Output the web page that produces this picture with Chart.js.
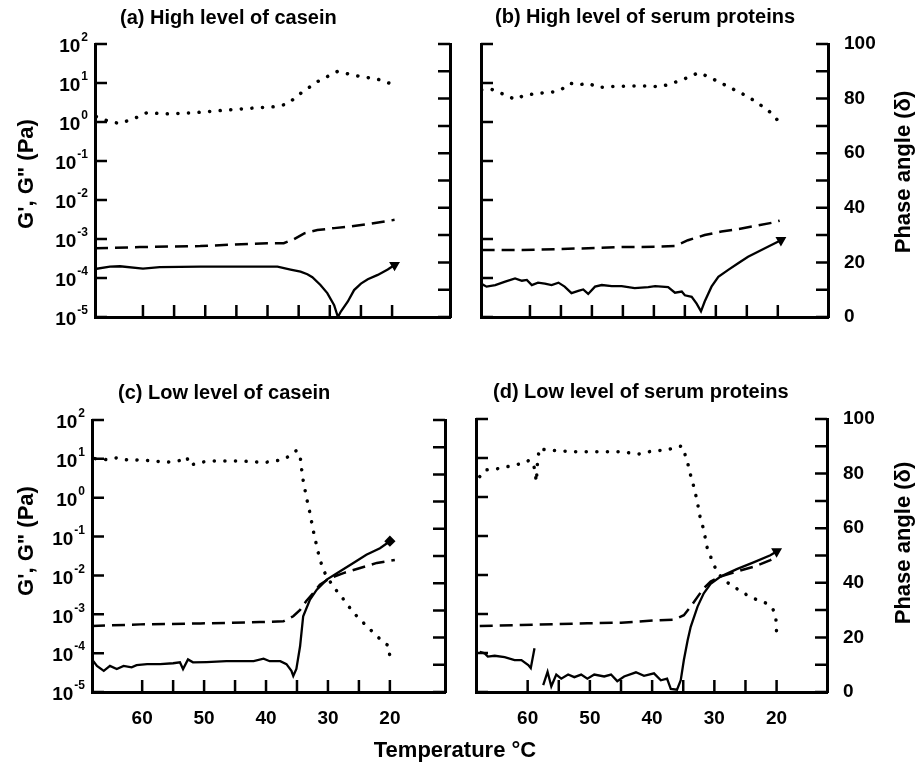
<!DOCTYPE html>
<html>
<head>
<meta charset="utf-8">
<script src="https://cdn.jsdelivr.net/npm/chart.js@4.4.1/dist/chart.umd.min.js"></script>
<style>
  body { margin: 0; background: #fff; }
  #page { position: relative; width: 915px; height: 770px; overflow: hidden; font-family: "Liberation Sans", Arial, sans-serif; font-weight: bold; color: #000; }
  canvas { position: absolute; }
  .txt { position: absolute; white-space: nowrap; line-height: 1; }
  .mid { transform: translate(-50%, -50%); }
  .rot { transform: translate(-50%, -50%) rotate(-90deg); }
</style>
</head>
<body>
<div id="page">
  <canvas id="chartA" width="458" height="360" style="left:0px;top:0px"></canvas>
  <canvas id="chartB" width="457" height="360" style="left:458px;top:0px"></canvas>
  <canvas id="chartC" width="458" height="380" style="left:0px;top:360px"></canvas>
  <canvas id="chartD" width="457" height="380" style="left:458px;top:360px"></canvas>

  <div class="txt" style="left:120px;top:7px;font-size:20px">(a) High level of casein</div>
  <div class="txt" style="left:495px;top:6px;font-size:20px">(b) High level of serum proteins</div>
  <div class="txt" style="left:118px;top:382px;font-size:20px">(c) Low level of casein</div>
  <div class="txt" style="left:493px;top:381px;font-size:20px">(d) Low level of serum proteins</div>

  <div class="txt rot" style="left:26px;top:174px;font-size:22px">G', G" (Pa)</div>
  <div class="txt rot" style="left:26px;top:541px;font-size:22px">G', G" (Pa)</div>
  <div class="txt rot" style="left:903px;top:172px;font-size:22px">Phase angle (δ)</div>
  <div class="txt rot" style="left:903px;top:543px;font-size:22px">Phase angle (δ)</div>
  <div class="txt mid" style="left:455px;top:750px;font-size:22px">Temperature °C</div>
</div>

<script>
// 축 눈금 값
var tempTicks = [60, 55, 50, 45, 40, 35, 30, 25, 20];
var tempLabels = [60, 50, 40, 30, 20];
var gExponents = [2, 1, 0, -1, -2, -3, -4, -5];
var phaseTicks = [0, 10, 20, 30, 40, 50, 60, 70, 80, 90, 100];
var phaseLabels = [0, 20, 40, 60, 80, 100];

// (a) High level of casein
var aTempPhase = [67.5, 65.3, 63.7, 62.1, 61.0, 59.4, 56.2, 51.9, 47.6, 43.3, 39.0, 36.8, 34.7, 32.0, 28.8, 25.5, 22.3, 19.6];
var aPhase = [73.4, 71.5, 70.9, 72.2, 73.1, 74.8, 74.4, 74.8, 75.6, 76.4, 77.0, 78.0, 81.9, 86.2, 89.9, 88.3, 87.1, 85.0];
var aTempG2 = [67.7, 60.5, 50.8, 40.0, 37.4, 35.8, 34.1, 32.0, 29.3, 26.6, 23.9, 21.2, 19.6];
var aG2 = [5.8e-4, 6.2e-4, 6.6e-4, 7.8e-4, 7.8e-4, 9.8e-4, 1.4e-3, 1.7e-3, 1.9e-3, 2.1e-3, 2.4e-3, 2.8e-3, 3.1e-3];
var aTempG1 = [67.7, 65.3, 63.7, 60.0, 57.3, 50.8, 44.4, 38.4, 36.3, 34.7, 33.6, 32.8, 31.5, 30.4, 29.3, 28.7, 28.2, 27.1, 26.1, 25.0, 23.9, 22.3, 20.7, 19.6];
var aG1 = [1.7e-4, 1.95e-4, 2.0e-4, 1.75e-4, 1.9e-4, 1.95e-4, 1.95e-4, 1.95e-4, 1.65e-4, 1.45e-4, 1.25e-4, 1.05e-4, 6.6e-5, 4.1e-5, 2.0e-5, 1.0e-5, 1.4e-5, 2.5e-5, 4.9e-5, 7.2e-5, 9.3e-5, 1.2e-4, 1.65e-4, 2.15e-4];

// (b) High level of serum proteins
var bTempPhase = [67.8, 66.2, 64.6, 62.4, 60.8, 59.2, 57.6, 56.0, 54.9, 53.5, 52.2, 50.6, 49.0, 46.8, 44.1, 41.5, 38.8, 37.1, 35.5, 33.9, 32.8, 31.2, 29.6, 28.0, 26.4, 24.8, 23.2, 21.6, 20.5, 19.7];
var bPhase = [83.2, 83.4, 81.9, 79.7, 81.3, 81.7, 82.2, 82.5, 83.4, 85.6, 85.0, 85.6, 84.1, 84.4, 84.6, 84.6, 84.4, 85.6, 86.8, 88.3, 89.5, 88.0, 86.2, 84.4, 82.5, 80.7, 78.3, 75.8, 73.4, 71.0];
var bTempG2 = [67.8, 61.3, 56.0, 50.6, 45.2, 39.8, 36.6, 34.5, 31.8, 29.1, 26.4, 23.7, 21.0, 19.7];
var bG2 = [5.2e-4, 5.2e-4, 5.5e-4, 5.8e-4, 6.2e-4, 6.3e-4, 6.6e-4, 9.3e-4, 1.26e-3, 1.55e-3, 1.8e-3, 2.15e-3, 2.6e-3, 2.95e-3];
var bTempG1 = [67.9, 67.0, 65.6, 64.0, 62.4, 61.3, 60.5, 59.7, 58.7, 57.6, 56.5, 55.4, 54.4, 53.3, 52.2, 51.4, 50.6, 49.5, 48.4, 46.8, 45.2, 43.1, 40.9, 39.8, 37.7, 36.6, 35.5, 35.0, 33.9, 33.1, 32.4, 31.8, 30.7, 29.6, 28.0, 26.4, 24.8, 23.2, 21.6, 19.5];
var bG1 = [7.2e-5, 6.0e-5, 6.6e-5, 8.1e-5, 9.8e-5, 8.5e-5, 8.9e-5, 6.6e-5, 7.6e-5, 7.2e-5, 6.6e-5, 7.6e-5, 6.0e-5, 4.1e-5, 4.7e-5, 5.1e-5, 3.9e-5, 6.0e-5, 6.6e-5, 6.2e-5, 6.2e-5, 5.5e-5, 5.8e-5, 6.2e-5, 5.8e-5, 4.2e-5, 4.5e-5, 3.6e-5, 3.3e-5, 2.2e-5, 1.4e-5, 2.5e-5, 6.0e-5, 1.07e-4, 1.62e-4, 2.4e-4, 3.5e-4, 4.7e-4, 6.3e-4, 9.3e-4];

// (c) Low level of casein
var cTempPhase = [67.6, 65.7, 64.1, 61.9, 60.3, 58.2, 56.0, 53.9, 52.8, 52.3, 50.6, 48.5, 46.3, 44.2, 42.0, 40.4, 38.8, 37.2, 36.1, 35.1, 34.5, 34.3, 34.0, 33.5, 32.9, 32.4, 31.8, 31.3, 30.5, 29.2, 27.5, 25.9, 24.3, 22.7, 21.0, 20.2, 20.0];
var cPhase = [85.8, 85.4, 86.1, 85.1, 85.4, 84.9, 84.5, 85.1, 86.4, 83.3, 84.5, 84.9, 84.9, 84.9, 84.7, 84.3, 84.9, 85.4, 87.0, 88.8, 87.0, 82.7, 77.8, 71.8, 65.7, 59.6, 53.5, 48.6, 43.8, 38.9, 34.1, 29.2, 25.5, 21.9, 18.2, 17.0, 12.8];
var cTempG2 = [68.1, 60.3, 50.6, 41.0, 37.2, 35.6, 34.5, 33.5, 32.4, 31.3, 29.7, 27.5, 24.8, 22.1, 19.2];
var cG2 = [5.0e-4, 5.5e-4, 5.8e-4, 6.3e-4, 6.6e-4, 8.9e-4, 1.3e-3, 2.2e-3, 3.5e-3, 5.8e-3, 8.5e-3, 1.15e-2, 1.55e-2, 2.1e-2, 2.5e-2];
var cTempG1 = [68.1, 67.3, 66.2, 65.2, 64.1, 63.0, 61.7, 60.9, 59.2, 57.1, 55.0, 53.9, 53.4, 52.6, 51.8, 49.6, 46.4, 44.2, 42.0, 40.4, 39.4, 37.7, 36.7, 35.9, 35.6, 35.1, 34.5, 34.0, 32.9, 31.8, 30.2, 28.1, 25.9, 23.8, 21.6, 20.0];
var cG1 = [6.9e-5, 4.7e-5, 3.5e-5, 4.7e-5, 3.9e-5, 4.7e-5, 4.3e-5, 4.9e-5, 5.2e-5, 5.2e-5, 5.5e-5, 5.8e-5, 3.9e-5, 6.9e-5, 5.8e-5, 5.9e-5, 6.2e-5, 6.2e-5, 6.2e-5, 7.2e-5, 6.2e-5, 6.2e-5, 5.2e-5, 3.5e-5, 2.6e-5, 3.9e-5, 1.5e-4, 8.9e-4, 2.4e-3, 4.3e-3, 7.8e-3, 1.26e-2, 2.1e-2, 3.4e-2, 5.0e-2, 7.6e-2];

// (d) Low level of serum proteins
var dTempPhase = [67.7, 66.9, 65.3, 63.7, 62.1, 60.5, 59.7, 59.2, 58.9, 58.6, 58.4, 58.1, 57.0, 55.1, 52.5, 50.4, 47.7, 45.0, 42.1, 39.7, 37.6, 36.0, 35.2, 34.4, 33.9, 33.3, 32.8, 32.3, 31.7, 31.2, 30.4, 29.6, 28.5, 26.9, 25.3, 23.7, 21.6, 20.5, 20.1, 20.0];
var dPhase = [78.9, 81.3, 81.6, 82.3, 83.2, 83.8, 85.0, 83.8, 81.9, 77.0, 85.0, 89.3, 88.6, 88.4, 88.0, 88.0, 88.0, 88.0, 87.2, 88.4, 88.6, 89.9, 90.1, 85.0, 80.1, 75.2, 70.3, 64.2, 59.3, 53.2, 48.4, 44.1, 41.0, 38.6, 36.2, 34.3, 32.5, 30.0, 26.4, 21.5];
var dTempG2 = [67.7, 61.0, 55.7, 50.4, 45.0, 39.7, 36.5, 34.9, 33.8, 32.7, 31.7, 30.6, 29.0, 26.4, 23.7, 21.0, 20.0];
var dG2 = [4.9e-4, 5.2e-4, 5.5e-4, 5.8e-4, 6.0e-4, 6.8e-4, 7.2e-4, 9.3e-4, 1.55e-3, 2.75e-3, 4.6e-3, 6.8e-3, 9.1e-3, 1.23e-2, 1.62e-2, 2.4e-2, 2.95e-2];
var dTempG1 = [67.7, 66.9, 66.4, 65.3, 63.7, 62.1, 61.0, 59.9, 59.5, 58.9, 58.2, 57.5, 56.8, 56.2, 55.4, 54.6, 53.5, 52.5, 51.4, 50.4, 49.3, 47.7, 46.6, 45.6, 44.5, 42.6, 41.3, 39.7, 38.6, 37.6, 37.0, 36.0, 35.4, 34.9, 34.3, 33.8, 32.7, 31.7, 30.6, 29.0, 26.4, 23.7, 21.0, 20.0];
var dG1 = [1.07e-4, 9.8e-5, 8.1e-5, 8.5e-5, 7.8e-5, 6.6e-5, 6.6e-5, 4.9e-5, 4.1e-5, 1.32e-4, null, 1.5e-5, 3.3e-5, 1.4e-5, 2.8e-5, 2.2e-5, 2.8e-5, 2.4e-5, 2.8e-5, 2.2e-5, 2.8e-5, 2.5e-5, 2.8e-5, 1.9e-5, 2.5e-5, 3.2e-5, 2.6e-5, 3.0e-5, 2.0e-5, 2.2e-5, 1.2e-5, 1.15e-5, 2.0e-5, 6.6e-5, 2.1e-4, 4.7e-4, 1.55e-3, 3.4e-3, 5.9e-3, 9.1e-3, 1.41e-2, 2.1e-2, 3.2e-2, 4.0e-2];

var tickFont = { family: '"Liberation Sans", Arial, sans-serif', size: 19, weight: 'bold' };

// 온도 배열과 값 배열을 {x, y} 점으로 묶는 함수
function toPoints(temps, values) {
    return temps.map(function(t, i) {
        return { x: t, y: values[i] };
    });
}

// 안쪽으로 향하는 눈금과 10^n 라벨을 그리는 플러그인
var axisTicks = {
    id: 'axisTicks',
    beforeDatasetsDraw: function(chart, args, opts) {
        var ctx = chart.ctx;
        var area = chart.chartArea;
        var yl = chart.scales.y, yr = chart.scales.y2, xs = chart.scales.x;
        ctx.save();
        ctx.strokeStyle = '#000';
        ctx.lineWidth = 2.5;
        ctx.beginPath();
        gExponents.forEach(function(k) {
            var py = yl.getPixelForValue(Math.pow(10, k));
            ctx.moveTo(area.left, py);
            ctx.lineTo(area.left + 12, py);
        });
        phaseTicks.forEach(function(v) {
            var py = yr.getPixelForValue(v);
            ctx.moveTo(area.right - 12, py);
            ctx.lineTo(area.right, py);
        });
        tempTicks.forEach(function(t) {
            var px = xs.getPixelForValue(t);
            ctx.moveTo(px, area.bottom);
            ctx.lineTo(px, area.bottom - 12);
        });
        ctx.stroke();

        if (opts.leftLabels) { // 왼쪽 패널만 로그 축 라벨 표시
            ctx.fillStyle = '#000';
            ctx.textBaseline = 'middle';
            gExponents.forEach(function(k) {
                var py = yl.getPixelForValue(Math.pow(10, k));
                var exp = String(k);
                var xr = area.left - 7;
                ctx.font = 'bold 12px "Liberation Sans", Arial, sans-serif';
                var we = ctx.measureText(exp).width;
                ctx.textAlign = 'left';
                ctx.fillText(exp, xr - we, py - 6);
                ctx.font = 'bold 19px "Liberation Sans", Arial, sans-serif';
                ctx.textAlign = 'right';
                ctx.fillText('10', xr - we - 1, py + 3);
            });
        }
        ctx.restore();
    }
};

// 패널 하나를 그리는 함수 (p: 캔버스 위치, 플롯 영역, 데이터)
function drawPanel(id, p) {
    var last = p.g1.length - 1;
    new Chart(document.getElementById(id), {
        type: 'line',
        data: {
            datasets: [{
                label: 'Phase angle',
                data: toPoints(p.tPhase, p.phase),
                yAxisID: 'y2',
                borderColor: '#000',
                borderWidth: 3.5,
                borderDash: [0.1, 10.5],
                borderCapStyle: 'round',
                pointRadius: 0
            }, {
                label: 'G"',
                data: toPoints(p.tG2, p.g2),
                yAxisID: 'y',
                borderColor: '#000',
                borderWidth: 2.5,
                borderDash: [13, 7],
                pointRadius: 0
            }, {
                label: "G'",
                data: toPoints(p.tG1, p.g1),
                yAxisID: 'y',
                borderColor: '#000',
                borderWidth: 2.3,
                pointRadius: function(c) { return c.dataIndex === last ? 4 : 0; },
                pointStyle: p.endStyle,
                pointRotation: p.endRotation,
                pointBackgroundColor: '#000',
                pointBorderColor: '#000'
            }]
        },
        options: {
            responsive: false,
            animation: false,
            events: [],
            layout: { autoPadding: false, padding: { top: p.T - p.cy, left: 0, right: 0, bottom: 0 } },
            plugins: {
                legend: { display: false },
                tooltip: { enabled: false },
                axisTicks: { leftLabels: p.leftLabels }
            },
            scales: {
                x: {
                    type: 'linear',
                    reverse: true,
                    min: p.xMin,
                    max: p.xMax,
                    grid: { display: false, drawTicks: false },
                    border: { display: true, width: 3, color: '#000' },
                    afterBuildTicks: function(s) {
                        s.ticks = tempLabels.map(function(v) { return { value: v }; });
                    },
                    ticks: { display: p.bottomLabels, padding: 15, color: '#000', font: tickFont, autoSkip: false, maxRotation: 0 },
                    afterFit: function(s) { s.height = p.cy + p.ch - p.B; }
                },
                y: {
                    type: 'logarithmic',
                    position: 'left',
                    min: 1e-5,
                    max: 100,
                    grid: { display: false, drawTicks: false },
                    border: { display: true, width: 3, color: '#000' },
                    ticks: { display: false },
                    afterFit: function(s) { s.width = p.L - p.cx; }
                },
                y2: {
                    type: 'linear',
                    position: 'right',
                    min: 0,
                    max: 100,
                    grid: { display: false, drawTicks: false },
                    border: { display: true, width: 3, color: '#000' },
                    afterBuildTicks: function(s) {
                        s.ticks = phaseLabels.map(function(v) { return { value: v }; });
                    },
                    ticks: { display: p.rightLabels, padding: 16, color: '#000', font: tickFont },
                    afterFit: function(s) { s.width = p.cx + p.cw - p.R; }
                }
            }
        },
        plugins: [axisTicks]
    });
}

drawPanel('chartA', {
    cx: 0, cy: 0, cw: 458, ch: 360, L: 95, T: 44, R: 450, B: 317, xMin: 10.7, xMax: 67.7,
    leftLabels: true, rightLabels: false, bottomLabels: false, endStyle: 'triangle', endRotation: 60,
    tPhase: aTempPhase, phase: aPhase, tG2: aTempG2, g2: aG2, tG1: aTempG1, g1: aG1
});
drawPanel('chartB', {
    cx: 458, cy: 0, cw: 457, ch: 360, L: 481, T: 44, R: 828, B: 317, xMin: 11.9, xMax: 67.9,
    leftLabels: false, rightLabels: true, bottomLabels: false, endStyle: 'triangle', endRotation: 60,
    tPhase: bTempPhase, phase: bPhase, tG2: bTempG2, g2: bG2, tG1: bTempG1, g1: bG1
});
drawPanel('chartC', {
    cx: 0, cy: 360, cw: 458, ch: 380, L: 92, T: 420, R: 445, B: 692, xMin: 11.1, xMax: 68.1,
    leftLabels: true, rightLabels: false, bottomLabels: true, endStyle: 'rectRot', endRotation: 0,
    tPhase: cTempPhase, phase: cPhase, tG2: cTempG2, g2: cG2, tG1: cTempG1, g1: cG1
});
drawPanel('chartD', {
    cx: 458, cy: 360, cw: 457, ch: 380, L: 476, T: 419, R: 827, B: 692, xMin: 11.9, xMax: 68.3,
    leftLabels: false, rightLabels: true, bottomLabels: true, endStyle: 'triangle', endRotation: 180,
    tPhase: dTempPhase, phase: dPhase, tG2: dTempG2, g2: dG2, tG1: dTempG1, g1: dG1
});
</script>
</body>
</html>
